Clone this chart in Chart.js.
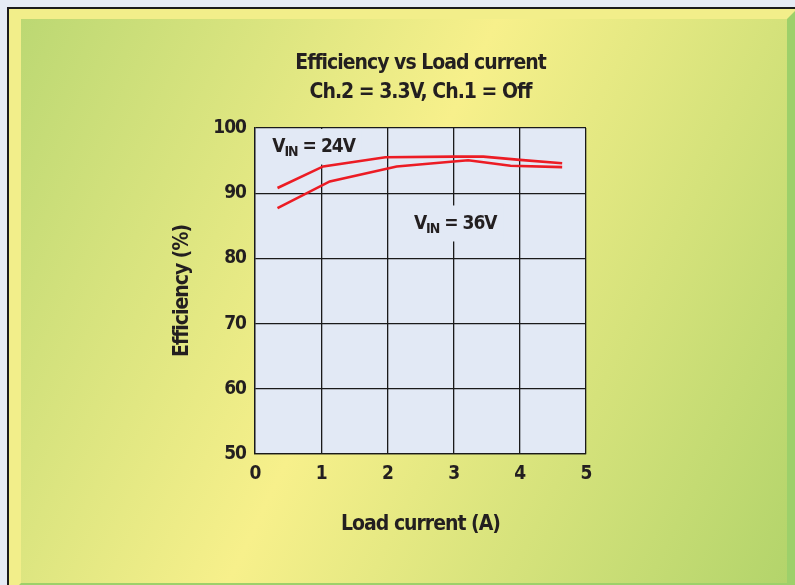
<!DOCTYPE html>
<html>
<head>
<meta charset="utf-8">
<script src="https://cdn.jsdelivr.net/npm/chart.js@4.4.0/dist/chart.umd.min.js"></script>
<style>
html, body { margin: 0; padding: 0; background: #e6ecf5; }
#wrap { width: 795px; height: 585px; }
</style>
</head>
<body>
<div id="wrap"><canvas id="effChart" width="795" height="585"></canvas></div>
<script>
// values
const loadCurrent24 = [0.34, 1.03, 1.97, 3.0, 3.45, 4.0, 4.64];
const efficiency24 = [90.8, 94.1, 95.5, 95.6, 95.6, 95.1, 94.6];
const loadCurrent36 = [0.34, 1.13, 2.14, 3.0, 3.22, 3.86, 4.64];
const efficiency36 = [87.7, 91.8, 94.1, 94.85, 95.05, 94.2, 94.0];
const xTicks = [0, 1, 2, 3, 4, 5];
const yTicks = [50, 60, 70, 80, 90, 100];
const titleLines = ['Efficiency vs Load current', 'Ch.2 = 3.3V, Ch.1 = Off'];
const curveLabels = [
    { name: '24', x: 0.26, y: 97.0 },
    { name: '36', x: 2.4, y: 85.2 }
];

const FONT = '"DejaVu Sans Condensed", "Liberation Sans Narrow", sans-serif';
const INK = '#231f20';
const PLOT_BG = '#e2e9f5';
const TIGHT = '-1px';

Chart.defaults.font.family = FONT;
Chart.defaults.font.weight = 'bold';
Chart.defaults.color = INK;

const toPoints = (xs, ys) => xs.map((x, i) => ({ x: x, y: ys[i] }));

// the reference uses a narrow condensed face, so squeeze the letters a bit
const narrowText = {
    id: 'narrowText',
    beforeUpdate(chart) { chart.ctx.letterSpacing = TIGHT; },
    beforeDraw(chart) { chart.ctx.letterSpacing = TIGHT; }
};

const panelBackground = {
    id: 'panelBackground',
    beforeDraw(chart) {
        const ctx = chart.ctx;
        const W = chart.width, H = chart.height;
        ctx.save();
        ctx.fillStyle = '#e6ecf5';
        ctx.fillRect(0, 0, W, H);
        ctx.fillStyle = '#1c1c1c';
        ctx.fillRect(7, 7, W - 7, H - 7);
        ctx.fillStyle = '#f2ee8a';
        ctx.fillRect(9, 9, W - 9, H - 9);
        // green bevels right and bottom
        ctx.fillStyle = '#9dd06a';
        ctx.beginPath();
        ctx.moveTo(787, 19); ctx.lineTo(W, 11); ctx.lineTo(W, H); ctx.lineTo(787, H);
        ctx.closePath(); ctx.fill();
        ctx.beginPath();
        ctx.moveTo(19, H); ctx.lineTo(21, 583); ctx.lineTo(787, 583); ctx.lineTo(789, H);
        ctx.closePath(); ctx.fill();
        // inner gradient panel
        const g = ctx.createLinearGradient(-24, 114, 819, 517);
        g.addColorStop(0, '#bcd873');
        g.addColorStop(0.46, '#f7f08b');
        g.addColorStop(1, '#b3d46b');
        ctx.fillStyle = g;
        ctx.fillRect(21, 19, 766, 564);
        // plot background
        const a = chart.chartArea;
        ctx.fillStyle = PLOT_BG;
        ctx.fillRect(a.left, a.top, a.right - a.left, a.bottom - a.top);
        ctx.restore();
    }
};

const vinLabels = {
    id: 'vinLabels',
    beforeDatasetsDraw(chart) {
        const ctx = chart.ctx;
        const xs = chart.scales.x, ys = chart.scales.y;
        const a = chart.chartArea;
        ctx.save();
        curveLabels.forEach(lbl => {
            const x0 = xs.getPixelForValue(lbl.x);
            const yc = ys.getPixelForValue(lbl.y);
            const big = 'bold 19px ' + FONT, small = 'bold 14px ' + FONT;
            ctx.font = big;
            const wV = ctx.measureText('V').width;
            const rest = ' = ' + lbl.name + 'V';
            const wRest = ctx.measureText(rest).width;
            ctx.font = small;
            const wIn = ctx.measureText('IN').width;
            const total = wV + wIn + wRest;
            const top = Math.max(a.top + 1, yc - 19);
            ctx.fillStyle = PLOT_BG;
            ctx.fillRect(x0 - 7, top, total + 14, yc + 17 - top);
            ctx.fillStyle = INK;
            ctx.textBaseline = 'middle';
            ctx.textAlign = 'left';
            ctx.font = big;
            ctx.fillText('V', x0, yc);
            ctx.font = small;
            ctx.fillText('IN', x0 + wV, yc + 5);
            ctx.font = big;
            ctx.fillText(rest, x0 + wV + wIn, yc);
        });
        ctx.restore();
    }
};

const ctx = document.getElementById('effChart').getContext('2d');
const effChart = new Chart(ctx, {
    type: 'line',
    data: {
        datasets: [{
            label: 'VIN = 24V',
            data: toPoints(loadCurrent24, efficiency24),
            borderColor: '#ec1c24',
            borderWidth: 2.6,
            pointRadius: 0,
            tension: 0
        }, {
            label: 'VIN = 36V',
            data: toPoints(loadCurrent36, efficiency36),
            borderColor: '#ec1c24',
            borderWidth: 2.6,
            pointRadius: 0,
            tension: 0
        }]
    },
    options: {
        responsive: false,
        animation: false,
        devicePixelRatio: 1,
        layout: { padding: { left: 166, right: 209, top: 30, bottom: 44 } },
        scales: {
            x: {
                type: 'linear',
                min: 0,
                max: 5,
                afterBuildTicks: s => { s.ticks = xTicks.map(v => ({ value: v })); },
                afterFit: s => { s.height = 87; },
                grid: { color: '#1a1a1a', lineWidth: 1.3, drawTicks: false },
                border: { color: '#1a1a1a', width: 1.3 },
                ticks: { padding: 9, font: { size: 19 }, maxRotation: 0 },
                title: {
                    display: true,
                    text: 'Load current (A)',
                    font: { size: 21 },
                    padding: { top: 0, bottom: 4 }
                }
            },
            y: {
                min: 50,
                max: 100,
                afterBuildTicks: s => { s.ticks = yTicks.map(v => ({ value: v })); },
                afterFit: s => { s.width = 89; },
                grid: { color: '#1a1a1a', lineWidth: 1.3, drawTicks: false },
                border: { color: '#1a1a1a', width: 1.3 },
                ticks: { padding: 9, font: { size: 19 } },
                title: {
                    display: true,
                    text: 'Efficiency (%)',
                    font: { size: 21 },
                    padding: { top: 4, bottom: 0 }
                }
            }
        },
        plugins: {
            legend: { display: false },
            tooltip: { enabled: false },
            title: {
                display: true,
                fullSize: false,
                text: titleLines,
                font: { size: 21, lineHeight: 1.38 },
                color: INK,
                padding: { top: 19, bottom: 21 }
            }
        }
    },
    plugins: [narrowText, panelBackground, vinLabels]
});
</script>
</body>
</html>
